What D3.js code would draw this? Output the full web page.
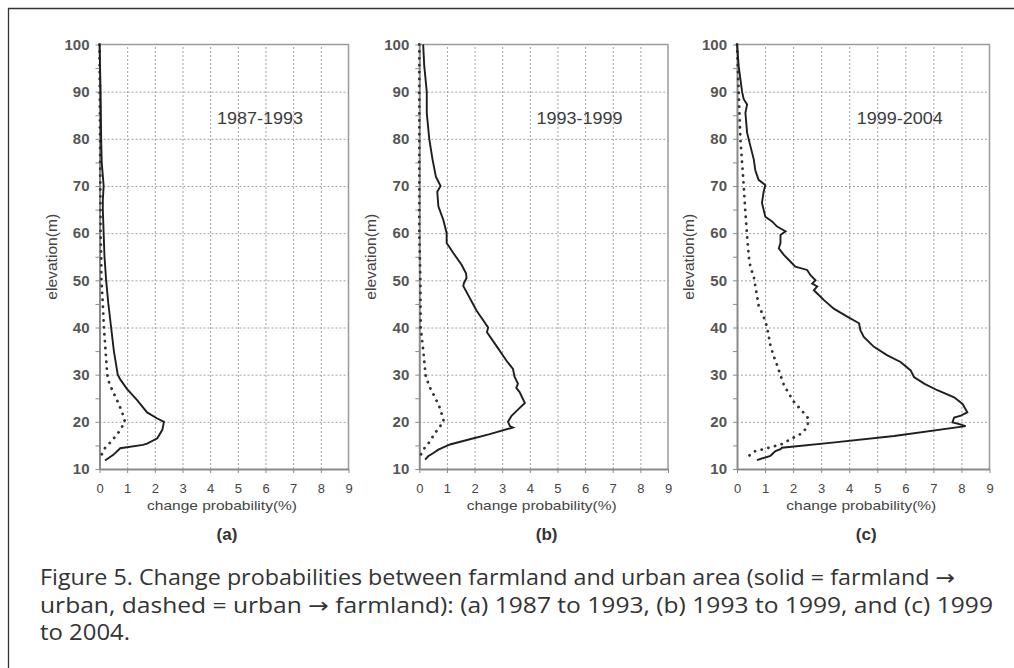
<!DOCTYPE html>
<html lang="en">
<head>
    <meta charset="UTF-8">
    <title>Figure 5 - change probabilities</title>
    <script src="https://cdnjs.cloudflare.com/ajax/libs/d3/7.8.5/d3.min.js"></script>
    <style>
        body {
            margin: 0;
            background-color: white;
        }

        .tick text {
            font-family: "Liberation Sans", Arial, sans-serif;
            font-weight: bold;
            fill: #555;
        }

        .grid line {
            stroke: #a0a0a0;
            stroke-dasharray: 2, 2;
        }

        .grid path {
            display: none;
        }

        .axis path, .axis line {
            stroke: #8a8a8a;
        }

        .solid {
            fill: none;
            stroke: #1e1e1e;
            stroke-width: 1.9;
        }

        .dotted {
            fill: none;
            stroke: #333;
            stroke-width: 2.8;
            stroke-linecap: round;
            stroke-dasharray: 0.1, 6.8;
        }

        .label {
            font-family: "Liberation Sans", Arial, sans-serif;
            fill: #444;
        }
    </style>
</head>
<body>
<svg id="figure" width="1014" height="668"></svg>
<script type="text/javascript">
    // ticks and labels
    const elevTicks = [10, 20, 30, 40, 50, 60, 70, 80, 90, 100];
    const probTicks = [0, 1, 2, 3, 4, 5, 6, 7, 8, 9];
    const periods = ['1987-1993', '1993-1999', '1999-2004'];
    const panelNames = ['(a)', '(b)', '(c)'];

    // (a) 1987-1993, solid = farmland -> urban
    const elevA1 = [100, 95, 90, 85, 80, 75, 70, 67, 65, 60, 55, 50, 45, 40, 35, 30, 29, 27, 24.6, 22, 20.7, 20, 18.3, 16.5, 15.4, 15.1, 14.4, 13, 11.8];
    const probA1 = [0, 0.02, 0.04, 0.05, 0.06, 0.08, 0.15, 0.12, 0.12, 0.15, 0.18, 0.24, 0.32, 0.42, 0.52, 0.66, 0.75, 0.99, 1.36, 1.72, 2.09, 2.33, 2.27, 2.09, 1.72, 1.57, 0.75, 0.5, 0.2];
    // (a) dashed = urban -> farmland
    const elevA2 = [100, 90, 80, 70, 60, 55, 50, 45, 40, 35, 30, 28, 26, 24, 22, 20, 18, 16, 14.2, 12];
    const probA2 = [0, 0.01, 0.02, 0.03, 0.04, 0.06, 0.07, 0.12, 0.16, 0.22, 0.28, 0.36, 0.52, 0.68, 0.82, 0.92, 0.72, 0.45, 0.16, 0];

    // (b) 1993-1999
    const elevB1 = [100, 95.4, 90, 85.5, 80, 75.6, 72, 70, 68.8, 65.7, 62.8, 60, 57.9, 55.8, 53.3, 51.5, 50.5, 49.5, 48.8, 43.6, 40, 39, 36.1, 33, 31.2, 29.5, 28.1, 27.2, 26.3, 24, 22.6, 21.2, 20, 19.1, 18.8, 17.4, 16.3, 15.2, 14.1, 13.4, 12.7, 12];
    const probB1 = [0.14, 0.18, 0.27, 0.27, 0.36, 0.48, 0.6, 0.77, 0.65, 0.69, 0.87, 0.99, 0.99, 1.23, 1.53, 1.69, 1.71, 1.62, 1.59, 2.07, 2.49, 2.45, 2.79, 3.15, 3.39, 3.45, 3.57, 3.51, 3.63, 3.82, 3.57, 3.33, 3.21, 3.28, 3.39, 2.55, 1.83, 1.11, 0.69, 0.51, 0.32, 0.21];
    const elevB2 = [100, 90, 80, 70, 60, 50, 40, 34.7, 29.8, 27.7, 25.6, 23.5, 21.3, 20, 19.2, 17.8, 15.6, 14.3, 12.4];
    const probB2 = [0, 0, 0, 0, 0, 0.04, 0.05, 0.15, 0.23, 0.35, 0.53, 0.71, 0.83, 0.89, 0.77, 0.59, 0.35, 0.17, 0];

    // (c) 1999-2004
    const elevC1 = [100, 95.4, 90, 88.4, 87.3, 85.5, 81.3, 78.4, 75.6, 73.4, 71.3, 70.2, 68.8, 66.4, 63.5, 62.5, 61.4, 60.4, 59.6, 57.9, 56.8, 55.4, 54, 52.9, 52.2, 51.1, 50, 49.3, 48.7, 47.9, 47.2, 45.8, 44, 42.3, 40.9, 39.4, 38, 35.9, 34.1, 32.7, 30.9, 29.5, 28.1, 26.7, 25.2, 23.8, 22, 21.3, 20.9, 19.9, 19.5, 19.1, 17, 15.6, 14.5, 14.2, 13.8, 12.8, 11.9];
    const probC1 = [0, 0.06, 0.18, 0.24, 0.36, 0.3, 0.36, 0.48, 0.6, 0.65, 0.77, 1.01, 0.95, 0.89, 1.01, 1.25, 1.43, 1.73, 1.55, 1.55, 1.49, 1.67, 1.9, 2.08, 2.5, 2.62, 2.8, 2.68, 2.86, 2.74, 2.86, 3.1, 3.45, 3.93, 4.35, 4.4, 4.52, 4.88, 5.36, 5.83, 6.19, 6.31, 6.67, 7.14, 7.74, 8.04, 8.21, 7.98, 7.74, 7.68, 7.92, 8.15, 5.6, 3.4, 1.6, 1.55, 1.37, 1.19, 0.71];
    const elevC2 = [100, 90, 80, 70, 64.3, 59.3, 55, 52.8, 50.7, 44.7, 42.3, 40.1, 36.2, 33.9, 32, 29.9, 27.8, 24.3, 22.3, 20.6, 18.8, 17.4, 16.3, 15.3, 14.6, 14.2, 13.7, 12.1];
    const probC2 = [0, 0.06, 0.12, 0.24, 0.3, 0.36, 0.42, 0.48, 0.6, 0.77, 0.95, 1.07, 1.19, 1.31, 1.43, 1.55, 1.67, 2.02, 2.32, 2.56, 2.5, 2.26, 1.9, 1.61, 1.19, 0.95, 0.6, 0.3];

    const svg = d3.select('#figure');

    svg.append('rect')
        .attr('width', 1014).attr('height', 668).attr('fill', 'white');

    // frame (only top and left edges are inside the picture)
    svg.append('path')
        .attr('d', 'M8.5,668 V8.5 H1014')
        .attr('fill', 'none')
        .attr('stroke', '#333')
        .attr('stroke-width', 1.3);

    const panels = [
        {left: 99.5, right: 348.5, solid: [elevA1, probA1], dotted: [elevA2, probA2]},
        {left: 419.3, right: 668, solid: [elevB1, probB1], dotted: [elevB2, probB2]},
        {left: 737, right: 989.5, solid: [elevC1, probC1], dotted: [elevC2, probC2]}
    ];

    const scaleY = d3.scaleLinear().domain([10, 100]).range([469, 44.5]);

    panels.forEach((p, i) => {
        const scaleX = d3.scaleLinear().domain([0, 9]).range([p.left, p.right]);
        const g = svg.append('g');
        const w = p.right - p.left;

        // grid
        g.append('g').attr('class', 'grid')
            .attr('transform', `translate(${p.left},0)`)
            .call(d3.axisLeft(scaleY).tickValues(elevTicks.slice(1, -1)).tickSize(-w).tickFormat(''));
        g.append('g').attr('class', 'grid')
            .attr('transform', `translate(0,${scaleY(10)})`)
            .call(d3.axisBottom(scaleX).tickValues(probTicks.slice(1, -1)).tickSize(-(scaleY(10) - scaleY(100))).tickFormat(''));

        // top and right border
        g.append('path')
            .attr('d', `M${p.left},${scaleY(100)} H${p.right} V${scaleY(10)}`)
            .attr('fill', 'none')
            .attr('stroke', '#9a9a9a')
            .attr('stroke-width', 1.5);

        // axes
        const yAxis = d3.axisLeft(scaleY)
            .tickValues(d3.range(10, 101, 5))
            .tickSize(4).tickSizeOuter(0).tickPadding(6)
            .tickFormat(d => elevTicks.includes(d) ? d : '');
        g.append('g').attr('class', 'axis')
            .attr('transform', `translate(${p.left},0)`)
            .call(yAxis)
            .call(a => a.selectAll('text').style('font-size', '15px'))
            .call(a => a.select('.domain').attr('stroke-width', 2));

        const xAxis = d3.axisBottom(scaleX)
            .tickValues(probTicks)
            .tickSize(4).tickSizeOuter(0).tickPadding(11);
        g.append('g').attr('class', 'axis')
            .attr('transform', `translate(0,${scaleY(10)})`)
            .call(xAxis)
            .call(a => a.selectAll('text').style('font-size', '13px').style('font-weight', 'normal').style('fill', '#444'))
            .call(a => a.select('.domain').attr('stroke-width', 2));

        // series
        const line = d3.line()
            .x(d => scaleX(d[1]))
            .y(d => scaleY(d[0]));

        g.append('path')
            .attr('class', 'dotted')
            .attr('d', line(d3.zip(p.dotted[0], p.dotted[1])));
        g.append('path')
            .attr('class', 'solid')
            .attr('d', line(d3.zip(p.solid[0], p.solid[1])));

        // labels
        const midX = (p.left + p.right) / 2;
        g.append('text')
            .attr('class', 'label')
            .attr('x', scaleX(5.8)).attr('y', scaleY(84.5) + 6)
            .attr('text-anchor', 'middle')
            .attr('textLength', 86)
            .attr('lengthAdjust', 'spacingAndGlyphs')
            .style('font-size', '16px')
            .style('fill', '#3c3c3c')
            .text(periods[i]);

        g.append('text')
            .attr('class', 'label')
            .attr('transform', `translate(${p.left - 43},${(scaleY(10) + scaleY(100)) / 2}) rotate(-90)`)
            .attr('text-anchor', 'middle')
            .attr('textLength', 86)
            .attr('lengthAdjust', 'spacingAndGlyphs')
            .style('font-size', '14px')
            .text('elevation(m)');

        g.append('text')
            .attr('class', 'label')
            .attr('x', midX - 2).attr('y', 510)
            .attr('text-anchor', 'middle')
            .attr('textLength', 150)
            .attr('lengthAdjust', 'spacingAndGlyphs')
            .style('font-size', '13px')
            .text('change probability(%)');

        g.append('text')
            .attr('class', 'label')
            .attr('x', midX + 3).attr('y', 540)
            .attr('text-anchor', 'middle')
            .style('font-size', '17px')
            .style('font-weight', 'bold')
            .style('fill', '#333')
            .text(panelNames[i]);
    });

    // caption, arrows set in DejaVu Sans for a full-width glyph
    const captionLines = [
        ['Figure 5. Change probabilities between farmland and urban area (solid = farmland ', '\u2192', ''],
        ['urban, dashed = urban ', '\u2192', ' farmland): (a) 1987 to 1993, (b) 1993 to 1999, and (c) 1999'],
        ['to 2004.', '', '']
    ];
    const captionWidths = [915, 953, 90];

    const cap = svg.append('g').selectAll('text')
        .data(captionLines)
        .join('text')
        .attr('x', 40)
        .attr('y', (d, i) => 585 + i * 27.5)
        .attr('textLength', (d, i) => captionWidths[i])
        .attr('lengthAdjust', 'spacingAndGlyphs')
        .style('font-family', '"Open Sans", sans-serif')
        .style('font-size', '21px')
        .style('fill', '#333');

    cap.append('tspan').text(d => d[0]);
    cap.append('tspan').style('font-family', '"DejaVu Sans", sans-serif').text(d => d[1]);
    cap.append('tspan').text(d => d[2]);
</script>
</body>
</html>
